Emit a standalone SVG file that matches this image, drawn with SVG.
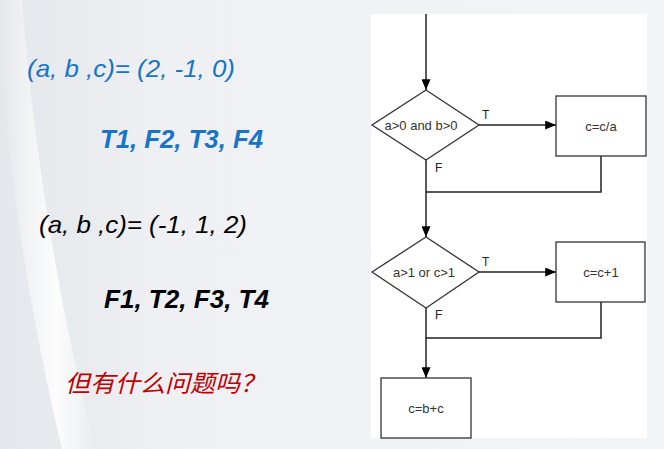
<svg xmlns="http://www.w3.org/2000/svg" width="664" height="449" viewBox="0 0 664 449">
<defs>
<linearGradient id="bg" x1="0" y1="0" x2="1" y2="0">
<stop offset="0" stop-color="#e4e7eb"/>
<stop offset="0.25" stop-color="#eef0f3"/>
<stop offset="1" stop-color="#f3f4f7"/>
</linearGradient>
<linearGradient id="sw" x1="0" y1="0" x2="1" y2="0">
<stop offset="0" stop-color="#ffffff" stop-opacity="0"/>
<stop offset="0.6" stop-color="#ffffff" stop-opacity="0.9"/>
<stop offset="1" stop-color="#ffffff" stop-opacity="0"/>
</linearGradient>
<marker id="ah" viewBox="0 0 12 10" refX="12" refY="5" markerWidth="12" markerHeight="9" markerUnits="userSpaceOnUse" orient="auto">
<path d="M0,0 L12,5 L0,10 Z" fill="#000"/>
</marker>
<style>
.ln{stroke:#222;stroke-width:1.5;fill:none}
.sh{stroke:#333;stroke-width:1.3;fill:#fff}
.ft{font-family:"Liberation Sans",Arial,sans-serif;font-size:13px;fill:#333;text-anchor:middle}
.lb{font-family:"Liberation Sans",Arial,sans-serif;font-size:12px;fill:#222}
.eq{font-family:"Liberation Sans",Arial,sans-serif;font-size:24px;font-style:italic}
.tf{font-family:"Liberation Sans",Arial,sans-serif;font-size:25px;font-style:italic;font-weight:bold}
</style>
</defs>
<rect width="664" height="449" fill="url(#bg)"/>
<path d="M0,0 L22,0 Q40,230 95,449 L62,449 Q12,240 0,40 Z" fill="url(#sw)"/>
<rect x="371" y="14" width="276" height="424" fill="#ffffff"/>

<g id="text-left">
<text class="eq" x="27" y="77" fill="#1874c8" textLength="208" lengthAdjust="spacingAndGlyphs">(a, b ,c)= (2, -1, 0)</text>
<text class="tf" x="100" y="148" fill="#1874c8" textLength="163" lengthAdjust="spacingAndGlyphs">T1, F2, T3, F4</text>
<text class="eq" x="39" y="233" fill="#000" textLength="208" lengthAdjust="spacingAndGlyphs">(a, b ,c)= (-1, 1, 2)</text>
<text class="tf" x="104" y="308" fill="#000" textLength="165" lengthAdjust="spacingAndGlyphs">F1, T2, F3, T4</text>
<text x="65" y="392" fill="#c00000" font-family="'Noto Sans CJK SC',sans-serif" font-size="24" font-style="italic" textLength="200" lengthAdjust="spacingAndGlyphs">但有什么问题吗？</text>
</g>

<g id="connectors">
<line class="ln" x1="426" y1="14" x2="426" y2="90" marker-end="url(#ah)"/>
<line class="ln" x1="479" y1="125" x2="556" y2="125" marker-end="url(#ah)"/>
<polyline class="ln" points="601,156 601,192 426,192"/>
<line class="ln" x1="426" y1="160" x2="426" y2="237" marker-end="url(#ah)"/>
<line class="ln" x1="479" y1="272" x2="556" y2="272" marker-end="url(#ah)"/>
<polyline class="ln" points="601,302 601,338 426,338"/>
<line class="ln" x1="426" y1="308" x2="426" y2="378" marker-end="url(#ah)"/>
<text class="lb" x="482" y="119">T</text>
<text class="lb" x="435" y="172">F</text>
<text class="lb" x="482" y="266">T</text>
<text class="lb" x="435" y="319">F</text>
</g>

<g id="d1">
<polygon class="sh" points="426,90 479,125 426,160 372,125"/>
<text class="ft" x="421" y="130">a&gt;0 and b&gt;0</text>
</g>
<g id="b1">
<rect class="sh" x="556" y="96" width="90" height="60"/>
<text class="ft" x="601" y="131">c=c/a</text>
</g>
<g id="d2">
<polygon class="sh" points="426,237 479,272 426,308 372,272"/>
<text class="ft" x="424" y="277">a&gt;1 or c&gt;1</text>
</g>
<g id="b2">
<rect class="sh" x="556" y="242" width="89" height="60"/>
<text class="ft" x="601" y="277">c=c+1</text>
</g>
<g id="b3">
<rect class="sh" x="381" y="378" width="90" height="60"/>
<text class="ft" x="426" y="413">c=b+c</text>
</g>
</svg>
